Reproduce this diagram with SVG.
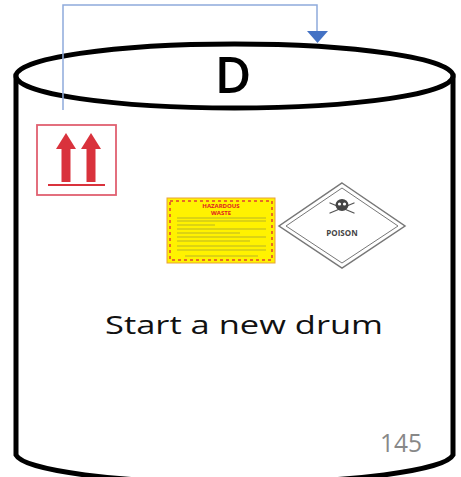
<svg xmlns="http://www.w3.org/2000/svg" width="461" height="477" viewBox="0 0 461 477">
  <style>
    .drum { fill: #ffffff; stroke: #000000; stroke-width: 5; }
    .link { fill: none; stroke: #8faadc; stroke-width: 1.5; }
    .lbl { font-family: "Open Sans", "Noto Sans", sans-serif; }
  </style>
  <rect width="461" height="477" fill="#ffffff"/>

  <!-- drum body -->
  <g id="drum">
    <path class="drum" d="M16,76 L16,455 A219,30 0 0 0 453,455 L453,76 Z"/>
    <ellipse class="drum" cx="234.5" cy="76" rx="218.5" ry="32"/>
    <text class="lbl" x="233" y="93" font-size="50" font-weight="600" text-anchor="middle" fill="#000">D</text>
  </g>

  <!-- connector -->
  <g id="connectors">
    <polyline class="link" points="63,110 63,5 317,5 317,32"/>
    <path d="M307,31 L328,31 L317.5,43 Z" fill="#4472c4"/>
  </g>

  <!-- "this way up" label -->
  <g id="up-label">
    <rect x="37" y="125" width="79" height="70" fill="#ffffff" stroke="#e06070" stroke-width="1.8"/>
    <path d="M66,133 L76,149 L70.5,149 L70.5,182 L61.5,182 L61.5,149 L56,149 Z" fill="#d9323c"/>
    <path d="M91,133 L101,149 L95.5,149 L95.5,182 L86.5,182 L86.5,149 L81,149 Z" fill="#d9323c"/>
    <line x1="48" y1="185" x2="105" y2="185" stroke="#d9323c" stroke-width="2"/>
  </g>

  <!-- hazardous waste label -->
  <g id="hazardous-waste">
    <rect x="167" y="198" width="108" height="65" fill="#fff200" stroke="#e8a23a" stroke-width="1"/>
    <rect x="170" y="201" width="102" height="59" fill="none" stroke="#e04030" stroke-width="1.5" stroke-dasharray="3,3"/>
    <text class="lbl" x="221" y="207.5" font-size="6" font-weight="700" text-anchor="middle" fill="#e02020">HAZARDOUS</text>
    <text class="lbl" x="221" y="215" font-size="6" font-weight="700" text-anchor="middle" fill="#e02020">WASTE</text>
    <g stroke="#8a8a40" stroke-width="0.6">
      <line x1="177" y1="218" x2="266" y2="218"/>
      <line x1="177" y1="221" x2="266" y2="221"/>
      <line x1="177" y1="225" x2="215" y2="225"/>
      <line x1="177" y1="229" x2="266" y2="229"/>
      <line x1="177" y1="233" x2="240" y2="233"/>
      <line x1="177" y1="237" x2="266" y2="237"/>
      <line x1="177" y1="241" x2="250" y2="241"/>
      <line x1="177" y1="246" x2="266" y2="246"/>
      <line x1="177" y1="250" x2="266" y2="250"/>
      <line x1="185" y1="256" x2="258" y2="256"/>
    </g>
  </g>

  <!-- poison diamond -->
  <g id="poison">
    <polygon points="342,183 405,226 342,268 279,226" fill="#ffffff" stroke="#777" stroke-width="1.5"/>
    <polygon points="342,188 398,226 342,263 286,226" fill="none" stroke="#777" stroke-width="1"/>
    <g fill="none" stroke="#555" stroke-width="1.3" stroke-linecap="round">
      <line x1="330" y1="203" x2="354" y2="213"/>
      <line x1="330" y1="213" x2="354" y2="203"/>
    </g>
    <ellipse cx="342" cy="205" rx="6.5" ry="6" fill="#444"/>
    <circle cx="339.5" cy="204" r="1.6" fill="#fff"/>
    <circle cx="344.5" cy="204" r="1.6" fill="#fff"/>
    <text class="lbl" x="342" y="236" font-size="8" font-weight="700" text-anchor="middle" fill="#444">POISON</text>
  </g>

  <!-- caption -->
  <g id="caption">
    <text class="lbl" x="105" y="334" font-size="25" fill="#111" textLength="278" lengthAdjust="spacingAndGlyphs">Start a new drum</text>
  </g>

  <!-- page number -->
  <g id="page-number">
    <text class="lbl" x="380" y="452" font-size="26" fill="#888" textLength="42" lengthAdjust="spacingAndGlyphs">145</text>
  </g>
</svg>
